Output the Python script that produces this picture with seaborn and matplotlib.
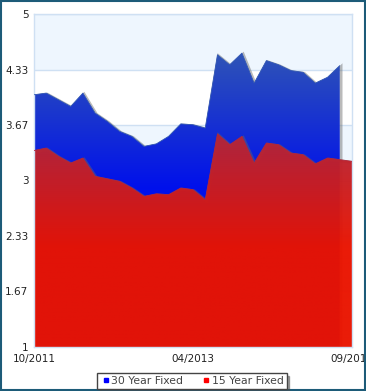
import numpy as np
import pandas as pd
import matplotlib
matplotlib.use("Agg")
from matplotlib import pyplot as plt
from matplotlib import transforms as mtransforms
from matplotlib.patches import PathPatch
from matplotlib.colors import to_rgb
from matplotlib.lines import Line2D
import seaborn as sns

# mortgage rates (27 periods)
rate_30yr = [4.03, 4.05, 3.97, 3.89, 4.05, 3.81, 3.71, 3.59, 3.53, 3.41, 3.44, 3.53, 3.68, 3.67,
             3.63, 4.51, 4.39, 4.53, 4.17, 4.44, 4.39, 4.32, 4.30, 4.17, 4.24, 4.38, np.nan]
rate_15yr = [3.36, 3.39, 3.29, 3.21, 3.27, 3.05, 3.02, 2.99, 2.91, 2.81, 2.84, 2.83, 2.91, 2.89,
             2.77, 3.56, 3.43, 3.53, 3.21, 3.45, 3.43, 3.33, 3.31, 3.20, 3.27, 3.25, 3.23]
x_labels = ["10/2011", "04/2013", "09/2014"]
y_ticks = [1, 1.67, 2.33, 3, 3.67, 4.33, 5]

period = np.arange(len(rate_15yr))
df = pd.DataFrame({
    "period": np.concatenate([period, period]),
    "rate": rate_30yr + rate_15yr,
    "series": ["30 Year Fixed"] * len(period) + ["15 Year Fixed"] * len(period),
})

sns.set_style("white")
plt.rcParams["font.family"] = ["DejaVu Sans"]

fig = plt.figure(figsize=(3.66, 3.91), dpi=100)
ax = fig.add_axes([34 / 366, 1 - 347 / 391, 318 / 366, 333 / 391])
xmax = len(period) - 1

# alternating background bands + grid
for i in range(len(y_ticks) - 1):
    if (len(y_ticks) - 2 - i) % 2 == 0:
        ax.axhspan(y_ticks[i], y_ticks[i + 1], color="#eef6fe", zorder=0, lw=0)
for t in y_ticks:
    ax.axhline(t, color="#cfe0f3", lw=1, zorder=0.5)

shadow_tr = mtransforms.offset_copy(ax.transData, fig=fig, x=1.2, y=-1.2, units="dots")


def gradient_area(values, top_col, bot_col, top_v, bot_v, alpha=1.0, z=1):
    poly = ax.fill_between(period, 1, values, color="none", lw=0)
    path = poly.get_paths()[0]
    # soft shadow around the area
    ax.add_patch(PathPatch(path, transform=shadow_tr, facecolor="none",
                           edgecolor="#666666", lw=2.2, alpha=0.45, zorder=z - 0.1))
    yy = np.linspace(1, 5, 400)
    t = np.clip((yy - bot_v) / (top_v - bot_v), 0, 1)[:, None]
    c0, c1 = np.array(to_rgb(bot_col)), np.array(to_rgb(top_col))
    img = (c0 * (1 - t) + c1 * t)[:, None, :]
    im = ax.imshow(img, origin="lower", aspect="auto",
                   extent=(0, xmax, 1, 5), alpha=alpha, zorder=z)
    im.set_clip_path(path, ax.transData)


gradient_area(rate_30yr, "#3157b4", "#0010ec", 4.6, 2.9, z=1)
gradient_area(rate_15yr, "#b3263a", "#ea1400", 3.55, 2.2, alpha=0.97, z=2)

sns.lineplot(data=df, x="period", y="rate", hue="series",
             palette={"30 Year Fixed": "#3157b4", "15 Year Fixed": "#b3263a"},
             lw=0.6, ax=ax, legend=False, zorder=3)

ax.set_xlim(0, xmax)
ax.set_ylim(1, 5)
ax.set_xticks([0, xmax / 2, xmax])
ax.set_xticklabels(x_labels)
ax.set_yticks(y_ticks)
ax.set_yticklabels(["1", "1.67", "2.33", "3", "3.67", "4.33", "5"])
ax.tick_params(axis="both", labelsize=7.5, colors="#222222", length=0)
ax.tick_params(axis="x", pad=5)
ax.tick_params(axis="y", pad=4)
ax.set_xlabel("")
ax.set_ylabel("")
for s in ["top", "right", "bottom", "left"]:
    ax.spines[s].set_color("#cfe0f3")
    ax.spines[s].set_linewidth(1)

# legend
handles = [Line2D([], [], marker="s", ls="", color="#0000ff", markersize=3.2),
           Line2D([], [], marker="s", ls="", color="#ff0000", markersize=3.2)]
leg = fig.legend(handles, ["30 Year Fixed", "15 Year Fixed"], loc="center",
                 bbox_to_anchor=(192 / 366, 1 - 381 / 391), ncol=2, fontsize=7.8,
                 frameon=True, fancybox=False, shadow=True, handletextpad=0.0,
                 columnspacing=1.6, borderpad=0.3, handlelength=1.0, borderaxespad=0)
leg.get_frame().set_edgecolor("#444444")
leg.get_frame().set_linewidth(1)
for t in leg.get_texts():
    t.set_color("#444444")

# outer border
fig.patches.append(plt.Rectangle((0.002, 0.002), 0.994, 0.995, transform=fig.transFigure,
                                 fill=False, edgecolor="#1d5b78", lw=1.5))

fig.savefig("out.png", dpi=100)
